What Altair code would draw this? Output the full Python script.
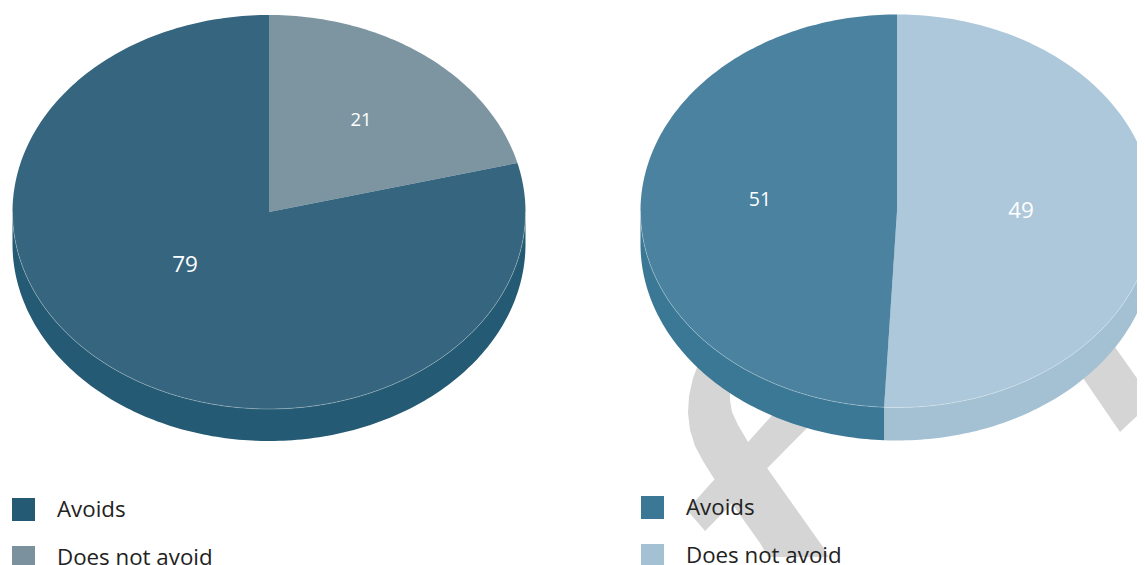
import math
import altair as alt
import pandas as pd

SERIES = ["Does not avoid", "Avoids"]

# Left pie
L_SWEEP = [21, 79]
L_LABELS = ["21", "79"]
L_LABEL_X = [361, 185]
L_LABEL_Y = [120, 265]
L_LABEL_SIZE = [18.5, 22.5]
L_TOP = ["#7d95a1", "#36667f"]
L_SIDE = ["#7b919e", "#245a73"]

# Right pie (sweep read from the drawn boundary, labels as printed)
R_SWEEP = [50.8, 49.2]
R_LABELS = ["49", "51"]
R_LABEL_X = [1021, 760]
R_LABEL_Y = [211, 200]
R_LABEL_SIZE = [22.5, 19.5]
R_TOP = ["#acc8da", "#4b829f"]
R_SIDE = ["#a4c1d3", "#3a7896"]

# Watermark ribbons behind the right pie
RIBBON_1_X = [700, 693, 689, 688, 690, 695, 703, 713, 760, 773, 833, 823, 767, 748, 738, 732, 730, 730, 733, 740]
RIBBON_1_Y = [360, 378, 396, 413, 430, 446, 461, 477, 543, 565, 565, 547, 468, 442, 425, 412, 400, 392, 382, 370]
RIBBON_2_X = [687, 705, 810, 775]
RIBBON_2_Y = [510, 531, 425, 412]
RIBBON_3_X = [1083, 1120, 1153, 1110]
RIBBON_3_Y = [378, 432, 401, 340]

FONT = "Open Sans"
X0, XMID, XEND = 8, 628, 1137
YTOP, YBOT = 8, 557


def ell(cx, cy, rx, ry, deg):
    a = math.radians(deg)
    return cx + rx * math.sin(a), cy - ry * math.cos(a)


def geometry(sweeps, cx, cy, rx, ry, depth):
    tops, sides, rim = [], [], []
    start = 0.0
    for name, sweep in zip(SERIES, sweeps):
        end = start + sweep * 3.6
        n = max(2, int((end - start)) + 1)
        angles = [start + (end - start) * k / (n - 1) for k in range(n)]
        tops.append(dict(series=name, i=-1, px=cx, py=cy))
        for k, d in enumerate(angles):
            px, py = ell(cx, cy, rx, ry, d)
            tops.append(dict(series=name, i=k, px=px, py=py))
        low = [d for d in angles if 90 <= d <= 270]
        if low:
            low = [max(start, 90)] + low + [min(end, 270)]
            pts = [ell(cx, cy, rx, ry, d) for d in low]
            seq = pts + [(p[0], p[1] + depth) for p in reversed(pts)]
            for k, (px, py) in enumerate(seq):
                sides.append(dict(series=name, i=k, px=px, py=py))
        start = end
    for d in range(90, 271):
        px, py = ell(cx, cy, rx, ry, d)
        rim.append(dict(i=d, px=px, py=py))
    return pd.DataFrame(tops), pd.DataFrame(sides), pd.DataFrame(rim)


def panel(sweeps, labels, lx, ly, lsize, top_cols, side_cols, centre, xdom, ldx, ldy, ribbons=()):
    width = xdom[1] - xdom[0]
    height = YBOT - YTOP
    X = alt.X("px:Q", axis=None, scale=alt.Scale(domain=list(xdom), nice=False, zero=False))
    Y = alt.Y("py:Q", axis=None, scale=alt.Scale(domain=[YBOT, YTOP], nice=False, zero=False))
    tops, sides, rim = geometry(sweeps, *centre)
    layers = []
    for rx_, ry_ in ribbons:
        df = pd.DataFrame(dict(px=rx_, py=ry_, i=range(len(rx_))))
        layers.append(alt.Chart(df).mark_line(filled=True, color="#d5d5d5", clip=True, strokeWidth=0)
                      .encode(x=X, y=Y, order="i:Q"))
    legend = alt.Legend(
        orient="none", legendX=ldx, legendY=ldy, title=None, symbolType="square",
        symbolSize=529, symbolStrokeWidth=0, symbolOpacity=1, labelFont=FONT, labelFontSize=22.3,
        labelColor="#222222", labelOffset=22, rowPadding=25, padding=0,
    )
    layers.append(
        alt.Chart(sides).mark_line(filled=True, strokeWidth=0, clip=True).encode(
            x=X, y=Y, order="i:Q", detail="series:N",
            color=alt.Color("series:N", legend=legend,
                            sort=["Avoids", "Does not avoid"],
                            scale=alt.Scale(domain=["Avoids", "Does not avoid"],
                                            range=[side_cols[1], side_cols[0]])),
        )
    )
    layers.append(
        alt.Chart(tops).mark_line(filled=True, strokeWidth=0, clip=True).encode(
            x=X, y=Y, order="i:Q", detail="series:N",
            fill=alt.condition(alt.datum.series == "Avoids", alt.value(top_cols[1]), alt.value(top_cols[0])),
        )
    )
    layers.append(
        alt.Chart(rim).mark_line(color="white", opacity=0.45, strokeWidth=0.6, clip=True).encode(
            x=X, y=Y, order="i:Q")
    )
    lab = pd.DataFrame(dict(px=lx, py=ly, t=labels, s=lsize))
    layers.append(
        alt.Chart(lab).mark_text(color="white", font=FONT, clip=True).encode(
            x=X, y=Y, text="t:N", size=alt.Size("s:Q", scale=None, legend=None))
    )
    return alt.layer(*layers).resolve_scale(color="independent").properties(width=width, height=height)


left = panel(L_SWEEP, L_LABELS, L_LABEL_X, L_LABEL_Y, L_LABEL_SIZE, L_TOP, L_SIDE,
             (269, 212, 256.5, 197, 32), (X0, XMID), 4, 490)
right = panel(R_SWEEP, R_LABELS, R_LABEL_X, R_LABEL_Y, R_LABEL_SIZE, R_TOP, R_SIDE,
              (897, 211, 256.5, 196.5, 33), (XMID, XEND), 13, 488,
              ribbons=[(RIBBON_1_X, RIBBON_1_Y), (RIBBON_2_X, RIBBON_2_Y), (RIBBON_3_X, RIBBON_3_Y)])

chart = (
    alt.hconcat(left, right, spacing=0)
    .resolve_scale(color="independent")
    .properties(padding=0)
    .configure_view(stroke=None)
)
chart.save("out.html", embed_options={"renderer": "svg", "actions": False})
